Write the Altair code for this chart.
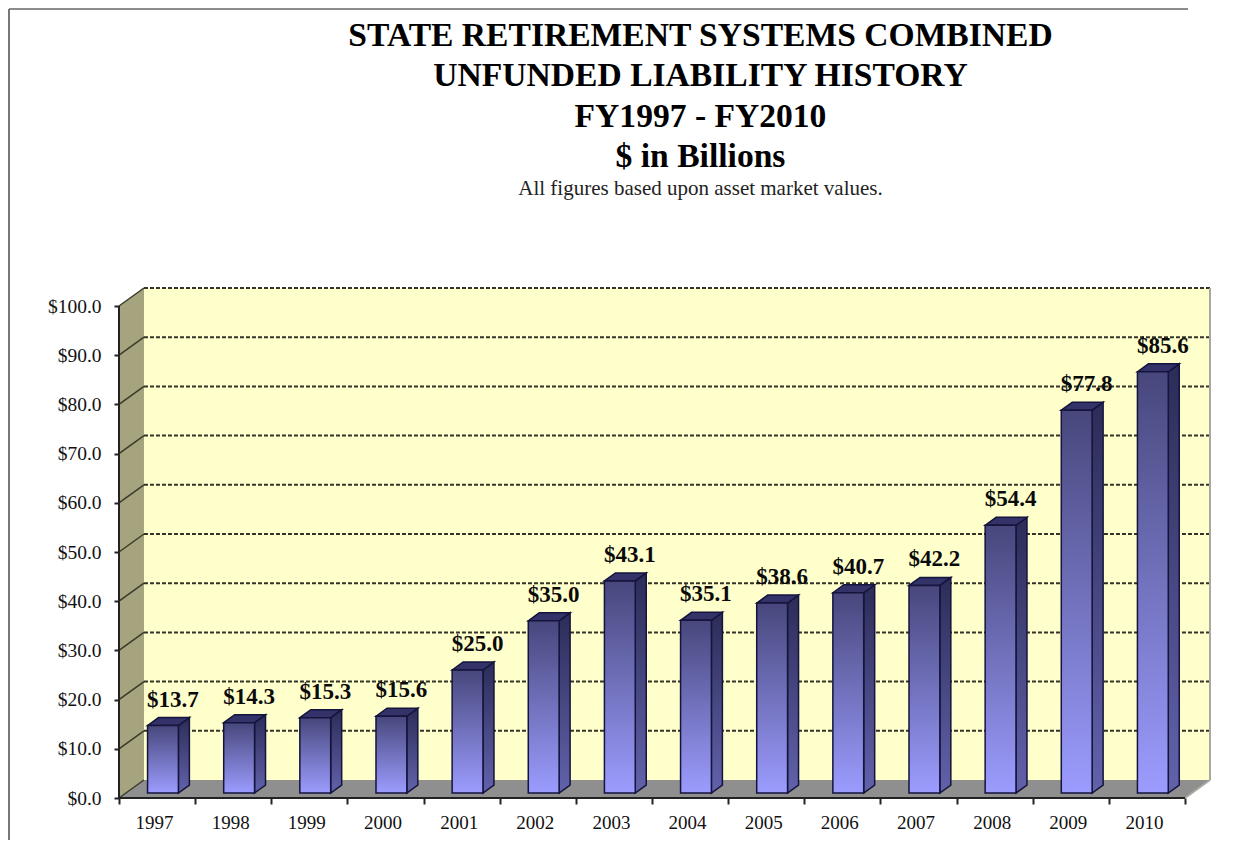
import altair as alt
import pandas as pd

years = ["1997","1998","1999","2000","2001","2002","2003","2004","2005","2006","2007","2008","2009","2010"]
values = [13.7,14.3,15.3,15.6,25.0,35.0,43.1,35.1,38.6,40.7,42.2,54.4,77.8,85.6]
grid_values = [10,20,30,40,50,60,70,80,90,100]
y_ticks = [0,10,20,30,40,50,60,70,80,90,100]
title_lines = ["STATE RETIREMENT SYSTEMS COMBINED","UNFUNDED LIABILITY HISTORY","FY1997 - FY2010","$ in Billions"]
subtitle_text = "All figures based upon asset market values."

FONT = "Liberation Serif"
PX_X = 1067 / 14      # pixels per category
PX_Y = 4.92           # pixels per billion
DX = 25 / PX_X        # depth of the box, in data units
DY = 18 / PX_Y
BAR_L = 0.375
BAR_W = 0.405
BAR_LIFT = 5 / PX_Y
BD = 11 / PX_X
BDY = 8 / PX_Y
N = len(years)
XMAX = N + DX
YMAX = 100 + DY

xs = alt.Scale(domain=[0, XMAX], nice=False, zero=False)
ys = alt.Scale(domain=[0, YMAX], nice=False, zero=False)

axis_y = alt.Axis(values=y_ticks, format="$.1f", title=None, domain=False, grid=False, tickSize=5, tickWidth=2,
                  tickColor="#222222", labelFont=FONT, labelFontSize=19.5, labelColor="#111111", labelPadding=13)
x_vals = [k / 2 for k in range(2 * N + 1)]
axis_x = alt.Axis(values=x_vals, title=None, domain=False, grid=False, tickSize=6, tickWidth=2,
                  tickColor="#222222",
                  tickOpacity=alt.condition("datum.value % 1 == 0", alt.value(1), alt.value(0)),
                  labelExpr="datum.value % 1 == 0.5 ? " + str(years) + "[floor(datum.value)] : ''",
                  labelFont=FONT, labelFontSize=19, labelColor="#111111", labelPadding=9, labelOffset=-3,
                  labelFlush=False, labelOverlap=False, labelBound=False)

X = lambda f="x": alt.X(f"{f}:Q", scale=xs, axis=axis_x)
Y = lambda f="y": alt.Y(f"{f}:Q", scale=ys, axis=axis_y, stack=False)

# walls and floor
back = pd.DataFrame([dict(x=DX, x2=XMAX, y=DY, y2=YMAX)])
wall = pd.DataFrame([dict(x=0, y=100, y2=0), dict(x=DX, y=YMAX, y2=DY)])
floor = pd.DataFrame([dict(x=0, y=0, y2=0), dict(x=DX, y=DY, y2=0),
                      dict(x=N, y=DY, y2=0), dict(x=XMAX, y=DY, y2=DY)])
grid = pd.DataFrame([dict(x=DX, x2=XMAX, y=v + DY) for v in grid_values])
slants = pd.DataFrame([dict(x=0, x2=DX, y=v, y2=v + DY) for v in [0] + grid_values])
edge = pd.DataFrame([dict(x=XMAX, x2=XMAX, y=DY, y2=YMAX), dict(x=N, x2=XMAX, y=0, y2=DY)])
spine = pd.DataFrame([dict(x=0, x2=0, y=0, y2=100), dict(x=0, x2=N, y=0, y2=0)])

# bars
front, side, top, labels = [], [], [], []
for i, (yr, v) in enumerate(zip(years, values)):
    l, r = i + BAR_L, i + BAR_L + BAR_W
    t = v + BAR_LIFT
    front.append(dict(year=yr, x=l, x2=r, y=BAR_LIFT, y2=t))
    side += [dict(year=yr, x=r, y=t, y2=BAR_LIFT), dict(year=yr, x=r + BD, y=t + BDY, y2=BAR_LIFT + BDY)]
    top += [dict(year=yr, x=l, y=t, y2=t), dict(year=yr, x=l + BD, y=t + BDY, y2=t),
            dict(year=yr, x=r, y=t + BDY, y2=t), dict(year=yr, x=r + BD, y=t + BDY, y2=t + BDY)]
    labels.append(dict(x=(l + r) / 2, y=t, value=v))
front, side, top, labels = map(pd.DataFrame, (front, side, top, labels))

STROKE = "#14143c"
grad_front = alt.LinearGradient(gradient="linear", x1=0, x2=0, y1=0, y2=1,
    stops=[alt.GradientStop(offset=0, color="#47477c"), alt.GradientStop(offset=1, color="#9c9cff")])
grad_side = alt.LinearGradient(gradient="linear", x1=0, x2=0, y1=0, y2=1,
    stops=[alt.GradientStop(offset=0, color="#2c2c58"), alt.GradientStop(offset=1, color="#6262ac")])

base_back = alt.Chart(back).mark_rect(fill="#ffffcc").encode(x=X(), x2="x2:Q", y=Y(), y2="y2:Q")
l_wall = alt.Chart(wall).mark_area(fill="#a6a47e", orient="vertical").encode(x=X(), y=Y(), y2="y2:Q")
l_floor = alt.Chart(floor).mark_area(fill="#8f8f8f", orient="vertical").encode(x=X(), y=Y(), y2="y2:Q")
l_grid = alt.Chart(grid).mark_rule(color="#33332a", strokeWidth=2, strokeDash=[4, 2]).encode(x=X(), x2="x2:Q", y=Y())
l_slant = alt.Chart(slants).mark_rule(color="#3a3a2a", strokeWidth=1.5).encode(x=X(), x2="x2:Q", y=Y(), y2="y2:Q")
l_edge = alt.Chart(edge).mark_rule(color="#a9a9a0", strokeWidth=2).encode(x=X(), x2="x2:Q", y=Y(), y2="y2:Q")
l_spine = alt.Chart(spine).mark_rule(color="#222222", strokeWidth=2).encode(x=X(), x2="x2:Q", y=Y(), y2="y2:Q")
l_side = alt.Chart(side).mark_area(fill=grad_side, stroke=STROKE, strokeWidth=1.5, orient="vertical").encode(
    x=X(), y=Y(), y2="y2:Q", detail="year:N")
l_top = alt.Chart(top).mark_area(fill="#33336a", stroke=STROKE, strokeWidth=1.5, orient="vertical").encode(
    x=X(), y=Y(), y2="y2:Q", detail="year:N")
l_front = alt.Chart(front).mark_rect(fill=grad_front, stroke=STROKE, strokeWidth=1.5).encode(
    x=X(), x2="x2:Q", y=Y(), y2="y2:Q")
l_text = alt.Chart(labels).mark_text(font=FONT, fontSize=23, fontWeight="bold", color="#0a0a0a",
                                     dx=10, dy=-26, baseline="middle").encode(
    x=X(), y=Y(), text=alt.Text("value:Q", format="$.1f"))

frame_row = pd.DataFrame([dict(k=0)])
frame_left = alt.Chart(frame_row).mark_rule(color="#777777", strokeWidth=2).encode(
    x=alt.value(-110), y=alt.value(-279), y2=alt.value(552))
frame_top = alt.Chart(frame_row).mark_rule(color="#666666", strokeWidth=1.5).encode(
    x=alt.value(-110), x2=alt.value(1069), y=alt.value(-279))

chart = alt.layer(base_back, l_wall, l_floor, l_grid, l_slant, l_edge, l_spine, l_side, l_top, l_front, l_text,
                  frame_left, frame_top).properties(
    width=1091, height=510, padding=0,
    title=alt.TitleParams(text=title_lines, subtitle=subtitle_text, frame="group", anchor="middle", dx=36,
                          offset=-191, font=FONT, fontSize=33.6, fontWeight="bold", color="#000000", lineHeight=40.5,
                          subtitleFont=FONT, subtitleFontSize=21, subtitleColor="#222222", subtitlePadding=4)
).configure_view(stroke=None)

chart.save("out.html", embed_options={"renderer": "svg", "actions": False})
